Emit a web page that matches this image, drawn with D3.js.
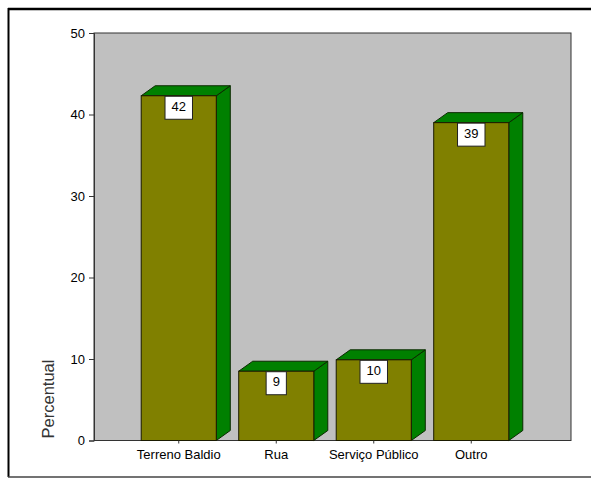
<!DOCTYPE html>
<html>
<head>
<meta charset="utf-8">
<script src="https://cdn.jsdelivr.net/npm/d3@7"></script>
<style>
  body { margin: 0; background: #fff; }
  svg { display: block; font-family: Arial, "Liberation Sans", sans-serif; }
</style>
</head>
<body>
<svg id="chart" width="591" height="478"></svg>
<script>
// chart data
let categories = ["Terreno Baldio", "Rua", "Serviço Público", "Outro"];
let values = [42.3, 8.5, 9.9, 39.0];
let labels = ["42", "9", "10", "39"];
let yTicks = [0, 10, 20, 30, 40, 50];

let svg = d3.select("#chart");

// plot area box
let plotLeft = 94, plotRight = 571, plotTop = 33, plotBottom = 440.5;
let depthX = 14, depthY = 10;

// outer frame
svg.append("line").attr("x1", 8).attr("x2", 591).attr("y1", 9).attr("y2", 9)
    .attr("stroke", "#000").attr("stroke-width", 2.5);
svg.append("line").attr("x1", 8.5).attr("x2", 8.5).attr("y1", 8).attr("y2", 477)
    .attr("stroke", "#000").attr("stroke-width", 2);
svg.append("line").attr("x1", 8).attr("x2", 591).attr("y1", 477).attr("y2", 477)
    .attr("stroke", "#444").attr("stroke-width", 1.5);

let y = d3.scaleLinear().domain([0, 50]).range([plotBottom, plotTop]);
let x = d3.scaleBand().domain(categories).range([130, 520]).paddingInner(0.23).paddingOuter(0.115);

svg.append("rect")
    .attr("x", plotLeft).attr("y", plotTop)
    .attr("width", plotRight - plotLeft).attr("height", plotBottom - plotTop)
    .attr("fill", "#c0c0c0").attr("stroke", "#333").attr("stroke-width", 1);

let bars = svg.append("g").selectAll("g")
    .data(categories)
    .enter()
    .append("g");

// side face
bars.append("path")
    .attr("d", function (d, i) {
        let x1 = x(d) + x.bandwidth();
        let top = y(values[i]);
        return "M" + x1 + "," + top + "L" + (x1 + depthX) + "," + (top - depthY) +
            "L" + (x1 + depthX) + "," + (plotBottom - depthY) + "L" + x1 + "," + plotBottom + "Z";
    })
    .attr("fill", "#008000").attr("stroke", "#0b2a00").attr("stroke-width", 1);

// top face
bars.append("path")
    .attr("d", function (d, i) {
        let x0 = x(d), x1 = x(d) + x.bandwidth();
        let top = y(values[i]);
        return "M" + x0 + "," + top + "L" + (x0 + depthX) + "," + (top - depthY) +
            "L" + (x1 + depthX) + "," + (top - depthY) + "L" + x1 + "," + top + "Z";
    })
    .attr("fill", "#008000").attr("stroke", "#0b2a00").attr("stroke-width", 1);

// front face
bars.append("rect")
    .attr("x", function (d) { return x(d); })
    .attr("y", function (d, i) { return y(values[i]); })
    .attr("width", x.bandwidth())
    .attr("height", function (d, i) { return plotBottom - y(values[i]); })
    .attr("fill", "#808000").attr("stroke", "#1a1a00").attr("stroke-width", 1);

// value boxes
bars.each(function (d, i) {
    let g = d3.select(this);
    let cx = x(d) + x.bandwidth() / 2;
    let top = y(values[i]);
    let t = g.append("text")
        .attr("x", cx).attr("y", top + 15)
        .attr("text-anchor", "middle")
        .attr("font-size", 13).attr("fill", "#000")
        .text(labels[i]);
    let w = t.node().getComputedTextLength() + 13;
    g.insert("rect", "text")
        .attr("x", cx - w / 2).attr("y", top + 0.5)
        .attr("width", w).attr("height", 23)
        .attr("fill", "#fff").attr("stroke", "#222").attr("stroke-width", 1);
});

// y axis
let yAxis = svg.append("g")
    .attr("transform", "translate(" + plotLeft + ",0)")
    .call(d3.axisLeft(y).tickValues(yTicks).tickSize(5).tickPadding(4));
yAxis.select(".domain").attr("stroke", "#333");
yAxis.selectAll(".tick line").attr("stroke", "#333");
yAxis.selectAll("text").attr("font-size", 13).attr("fill", "#000").attr("font-family", "Arial, 'Liberation Sans', sans-serif");

// x axis
let xAxis = svg.append("g")
    .attr("transform", "translate(0," + plotBottom + ")")
    .call(d3.axisBottom(x).tickSize(3).tickPadding(6).tickSizeOuter(0));
xAxis.select(".domain").remove();
xAxis.selectAll(".tick line").attr("stroke", "#333");
xAxis.selectAll("text").attr("font-size", 13).attr("fill", "#000").attr("font-family", "Arial, 'Liberation Sans', sans-serif");

// axis title
svg.append("text")
    .attr("transform", "translate(54,399) rotate(-90)")
    .attr("text-anchor", "middle")
    .attr("font-size", 16.5).attr("fill", "#333")
    .text("Percentual");
</script>
</body>
</html>
